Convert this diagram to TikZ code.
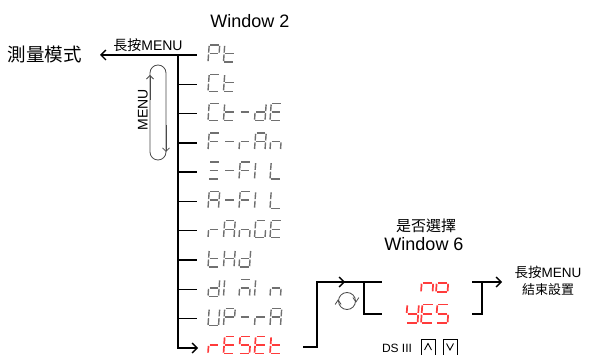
\documentclass[tikz,border=0pt]{standalone}
\usepackage{fontspec}
\setmainfont{Liberation Sans}
\newfontfamily\cjk{Noto Sans CJK TC}
\usetikzlibrary{arrows.meta}
\definecolor{segGray}{HTML}{707070}
\definecolor{segRed}{HTML}{FF3B3B}
\definecolor{loopGray}{HTML}{4A4A4A}
% seven-segment geometry (top-left origin, y down)
\def\sega{(1.2,0)--(11.7,0)}
\def\segb{(11.7,0)--(11.1,8.5)}
\def\segc{(11.1,8.5)--(10.5,17)}
\def\segd{(0,17)--(10.5,17)}
\def\sege{(0.6,8.5)--(0,17)}
\def\segf{(1.2,0)--(0.6,8.5)}
\def\segg{(0.6,8.5)--(11.1,8.5)}
% characters
\def\chP{a,b,e,f,g}
\def\cht{d,e,f,g}
\def\chC{a,d,e,f}
\def\chm{g}
\def\chd{b,c,d,e,g}
\def\chE{a,d,e,f,g}
\def\chF{a,e,f,g}
\def\chr{e,g}
\def\chA{a,b,c,e,f,g}
\def\chn{c,e,g}
\def\chX{a,d,g}
\def\chI{e,f}
\def\chL{d,e,f}
\def\chG{a,c,d,e,f}
\def\chH{b,c,e,f,g}
\def\chN{a,c,e,g}
\def\chU{b,c,d,e,f}
\def\chS{a,c,d,f,g}
\def\chY{b,c,d,f,g}
\def\cho{c,d,e,g}
% #1 style, #2 x, #3 y top, #4 pitch, #5 scale, #6 chars
\newcommand\segword[6]{%
 \foreach \segch [count=\segk from 0] in {#6}{%
  \edef\seglist{\csname ch\segch\endcsname}%
  \begin{scope}[shift={({#2+\segk*#4},{#3})},scale=#5]
   \foreach \q in \seglist {\draw[#1] \csname seg\q\endcsname;}
  \end{scope}}}
\begin{document}
\begin{tikzpicture}[x=1pt,y=-1pt,
  segline/.style={line width=1.4pt,shorten <=0.9pt,shorten >=0.9pt},
  gseg/.style={segline,draw=segGray},
  rseg/.style={segline,draw=segRed,line width=1.7pt},
  mainline/.style={line width=2.4pt,black},
  tickline/.style={line width=1.4pt,black},
  bracket/.style={line width=2.3pt,black},
  loopline/.style={line width=0.8pt,loopGray},
  barb/.tip={Straight Barb[length=5pt,width=10pt,line width=1.3pt]},
  smallbarb/.tip={Straight Barb[length=3.5pt,width=7pt,line width=0.8pt]},
  lbl/.style={inner sep=0pt},
  keybox/.style={draw=black,line width=0.7pt,minimum width=14pt,minimum height=16pt,inner sep=0pt}]
\useasboundingbox (0,0) rectangle (592,355);
% main spine
\coordinate (top) at (178,55);
\coordinate (bot) at (178,348);
\coordinate (modeTip) at (100,55);
\coordinate (resetTip) at (198,348);
\draw[mainline,barb-barb] (modeTip) -- (top) -- (bot) -- (resetTip);
\foreach \i in {0,...,9}{
  \coordinate (t\i) at (178,{55+29.3*\i});
  \coordinate (e\i) at (197,{55+29.3*\i});
  \draw[tickline] (t\i) -- (e\i);
}
% texts
\node[lbl,font=\cjk\fontsize{18.5}{20}\selectfont] (mode) at (45,55) {測量模式};
\node[lbl,font=\fontsize{14}{16}\selectfont] (lp1) at (148,45) {{\cjk 長按}MENU};
\node[lbl,font=\fontsize{18}{20}\selectfont] (w2) at (250,21) {Window 2};
\node[lbl,font=\fontsize{14}{16}\selectfont,rotate=90] (menuv) at (143,110) {MENU};
\node[lbl,font=\cjk\fontsize{15}{17}\selectfont] (sel) at (426,226) {是否選擇};
\node[lbl,font=\fontsize{18}{20}\selectfont] (w6) at (424,244) {Window 6};
\node[lbl,font=\fontsize{13.5}{15}\selectfont] (lp2) at (548,272) {{\cjk 長按}MENU};
\node[lbl,font=\cjk\fontsize{13}{15}\selectfont] (fin) at (548,290) {結束設置};
\node[lbl,font=\fontsize{12}{14}\selectfont] (ds) at (397,348) {DS III};
% key boxes
\node[keybox] (kup) at (428,347) {};
\node[keybox] (kdn) at (450,347) {};
\draw[line width=0.9pt] (kup.center) ++(-3.5,3) -- ++(3.5,-6.5) -- ++(3.5,6.5);
\draw[line width=0.9pt] (kdn.center) ++(-3.5,-3.5) -- ++(3.5,6.5) -- ++(3.5,-6.5);
% MENU loop
\draw[loopline,rounded corners=8pt] (150,65) rectangle (166,160);
\coordinate (lu0) at (150,100); \coordinate (lu1) at (150,75);
\coordinate (ld0) at (166,125); \coordinate (ld1) at (166,152);
\draw[loopline,-smallbarb] (lu0) -- (lu1);
\draw[loopline,-smallbarb] (ld0) -- (ld1);
% seven-segment menu items
\segword{gseg}{208}{45}{15.5}{1}{P,t}
\segword{gseg}{208}{74.3}{15.5}{1}{C,t}
\segword{gseg}{208}{103.6}{15.5}{1}{C,t,m,d,E}
\segword{gseg}{208}{132.9}{15.5}{1}{F,m,r,A,n}
\segword{gseg}{208}{162.2}{15.5}{1}{X,m,F,I,L}
\segword{gseg}{208}{191.5}{15.5}{1}{A,m,F,I,L}
\segword{gseg}{208}{220.8}{15.5}{1}{r,A,n,G,E}
\segword{gseg}{208}{250.1}{15.5}{1}{t,H,d}
\segword{gseg}{208}{279.4}{15.5}{1}{d,I,N,I,n}
\segword{gseg}{208}{308.7}{15.5}{1}{U,P,m,r,A}
\segword{rseg}{208}{336.5}{15.5}{1}{r,E,S,E,t}
% reset sub-menu
\coordinate (rs0) at (303,347);
\coordinate (rs1) at (317,347);
\coordinate (rs2) at (317,282);
\coordinate (rs3) at (382,282);
\coordinate (rsm) at (345,282);
\draw[bracket] (rs0) -- (rs1) -- (rs2) -- (rs3);
\draw[bracket,-barb] (rs2) -- (rsm);
\coordinate (lb0) at (364,282);
\coordinate (lb1) at (364,314);
\coordinate (lb2) at (382,314);
\draw[bracket] (lb0) -- (lb1) -- (lb2);
\coordinate (rb0) at (472,314);
\coordinate (rb1) at (482,314);
\coordinate (rb2) at (482,282);
\coordinate (rb3) at (472,282);
\coordinate (rb4) at (502,282);
\draw[bracket] (rb0) -- (rb1) -- (rb2);
\draw[bracket,-barb] (rb3) -- (rb4);
% cycle icon
\node[circle,draw=loopGray,line width=0.8pt,minimum size=17pt,inner sep=0pt] (cyc) at (347,301) {};
\draw[loopline] (cyc.west) ++(-3,3.5) -- ++(3,-4.5) -- ++(3,4.5);
\draw[loopline] (cyc.east) ++(-3,-3.5) -- ++(3,4.5) -- ++(3,-4.5);
% no / YES
\segword{rseg}{421}{273.5}{15}{1.1}{n,o}
\segword{rseg}{406}{304.5}{15}{1.1}{Y,E,S}
\end{tikzpicture}
\end{document}
